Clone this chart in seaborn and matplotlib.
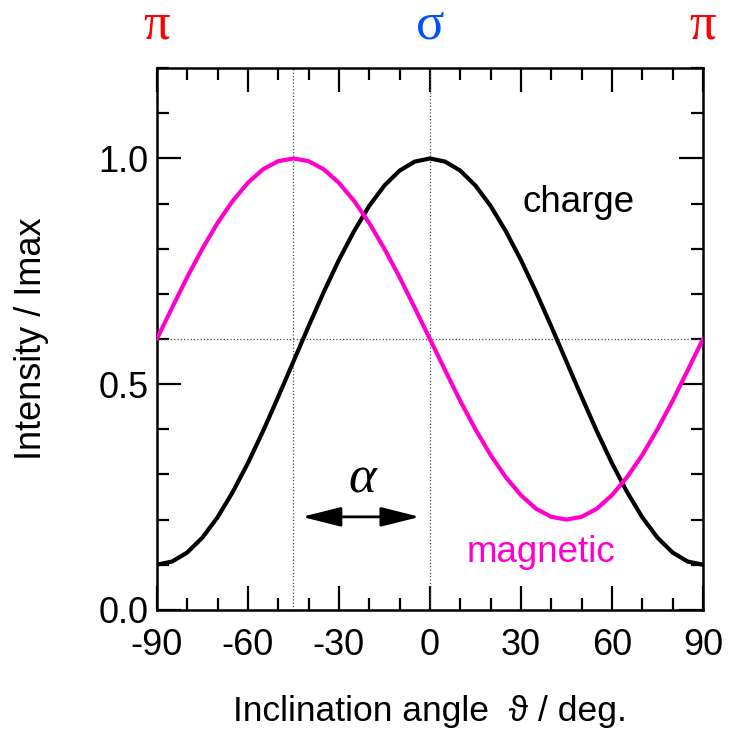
import numpy as np
import pandas as pd
import matplotlib
matplotlib.use("Agg")
import matplotlib.pyplot as plt
from matplotlib.ticker import MultipleLocator
import seaborn as sns

# angles in degrees
angle = [-90, -85, -80, -75, -70, -65, -60, -55, -50, -45, -40, -35, -30,
         -25, -20, -15, -10, -5, 0, 5, 10, 15, 20, 25, 30, 35, 40, 45, 50,
         55, 60, 65, 70, 75, 80, 85, 90]
charge = [0.10, 0.107, 0.127, 0.160, 0.205, 0.261, 0.325, 0.396, 0.472, 0.55,
          0.628, 0.704, 0.775, 0.839, 0.895, 0.940, 0.973, 0.993, 1.00, 0.993,
          0.973, 0.940, 0.895, 0.839, 0.775, 0.704, 0.628, 0.55, 0.472, 0.396,
          0.325, 0.261, 0.205, 0.160, 0.127, 0.107, 0.10]
magnetic = [0.60, 0.669, 0.737, 0.80, 0.857, 0.906, 0.946, 0.976, 0.994, 1.00,
            0.994, 0.976, 0.946, 0.906, 0.857, 0.80, 0.737, 0.669, 0.60, 0.531,
            0.463, 0.40, 0.343, 0.294, 0.254, 0.224, 0.206, 0.20, 0.206, 0.224,
            0.254, 0.294, 0.343, 0.40, 0.463, 0.531, 0.60]

xticks = [-90, -60, -30, 0, 30, 60, 90]
yticks = [0.0, 0.5, 1.0]
top_labels = ["π", "σ", "π"]
top_pos = [-90, 0, 90]
top_colors = ["#ff0000", "#0050ff", "#ff0000"]

df = pd.DataFrame({"angle": angle, "charge": charge, "magnetic": magnetic})

sns.set_style("ticks")
plt.rcParams["font.family"] = ["Liberation Sans", "DejaVu Sans"]
plt.rcParams["text.color"] = "black"
plt.rcParams["axes.labelcolor"] = "black"

fig = plt.figure(figsize=(7.33, 7.33), dpi=100)
ax = fig.add_axes([0.214, 0.168, 0.745, 0.739])

magenta = "#ff00cc"

# guide lines
ax.axvline(-45, color="0.3", lw=0.9, ls=":", zorder=1)
ax.axvline(0, color="0.3", lw=0.9, ls=":", zorder=1)
ax.axhline(0.6, color="0.3", lw=0.9, ls=":", zorder=1)

sns.lineplot(data=df, x="angle", y="charge", color="black", lw=3, ax=ax, zorder=3)
sns.lineplot(data=df, x="angle", y="magnetic", color=magenta, lw=3, ax=ax, zorder=3)

ax.set_xlim(-90, 90)
ax.set_ylim(0, 1.2)
ax.set_xticks(xticks)
ax.set_xticklabels([str(v) for v in xticks])
ax.set_yticks(yticks)
ax.set_yticklabels([f"{v:.1f}" for v in yticks])
ax.xaxis.set_minor_locator(MultipleLocator(10))
ax.yaxis.set_minor_locator(MultipleLocator(0.1))
ax.tick_params(which="both", direction="in", top=True, right=True, width=1.6,
               labelsize=26, color="black", labelcolor="black")
ax.tick_params(which="major", length=17, pad=13)
ax.tick_params(axis="y", which="major", pad=6)
ax.tick_params(which="minor", length=8.5)
for s in ax.spines.values():
    s.set_linewidth(1.8)
    s.set_color("black")

ax.set_xlabel("Inclination angle  ϑ / deg.", fontsize=25.5)
ax.set_ylabel("Intensity / Imax", fontsize=26)
ax.xaxis.set_label_coords(0.5, -0.158)
ax.yaxis.set_label_coords(-0.198, 0.5)

ax.text(49, 0.903, "charge", fontsize=26.5, ha="center", va="center")
ax.text(36.6, 0.126, "magnetic", fontsize=26.5, ha="center", va="center", color=magenta)

# alpha arrow
ax.annotate("", xy=(-42.2, 0.206), xytext=(-3.3, 0.206),
            arrowprops=dict(arrowstyle="<|-|>,head_length=0.8,head_width=0.2",
                            color="black", lw=2, mutation_scale=30,
                            shrinkA=0, shrinkB=0))
ax.text(-22.4, 0.288, "α", fontsize=38, ha="center", va="center",
        style="italic", family=["Liberation Serif", "DejaVu Serif"])

for lab, pos, col in zip(top_labels, top_pos, top_colors):
    ax.text(pos, 1.294, lab, color=col, fontsize=38, ha="center", va="center",
            family=["Liberation Serif", "DejaVu Serif"], clip_on=False)

fig.savefig("out.png", dpi=100)
